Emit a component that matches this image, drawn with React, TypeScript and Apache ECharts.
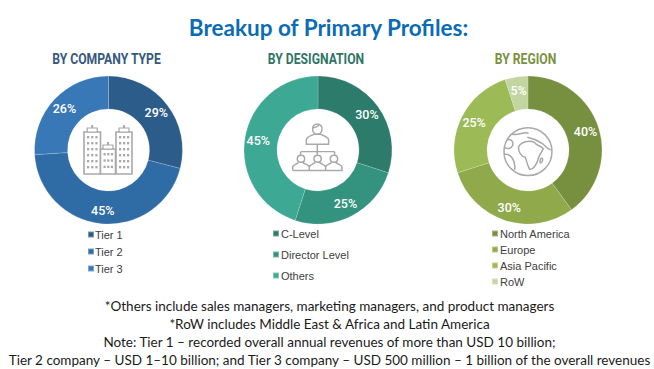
import React, { useEffect, useRef } from "react";
import * as echarts from "echarts";

const mainTitle = "Breakup of Primary Profiles:";
const panelTitles = ["BY COMPANY TYPE", "BY DESIGNATION", "BY REGION"];
const companyNames = ["Tier 1", "Tier 2", "Tier 3"];
const companyValues = [29, 45, 26];
const designationNames = ["C-Level", "Director Level", "Others"];
const designationValues = [30, 25, 45];
const regionNames = ["North America", "Europe", "Asia Pacific", "RoW"];
const regionValues = [40, 30, 25, 5];
const notes = [
  "*Others include sales managers, marketing managers, and product managers",
  "*RoW includes Middle East & Africa and Latin America",
  "Note: Tier 1 – recorded overall annual revenues of more than USD 10 billion;",
  "Tier 2 company – USD 1–10 billion; and Tier 3 company – USD 500 million – 1 billion of the overall revenues",
];

const companyColors = ["#2b5c8a", "#2f6ba5", "#3878b7"];
const designationColors = ["#2c7b6b", "#33937f", "#3da893"];
const regionColors = ["#76903f", "#8fa94b", "#9cba56", "#c3d5a0"];
const iconGrey = "#a9a9a9";

const personPath =
  "M104 60C100 36 136 36 132 60C130 76 106 76 104 60ZM104 54C114 52 120 50 124 44" +
  "M85 103L85 90C85 80 98 78 108 73L128 73C138 78 152 80 152 90L152 103ZM118 103L118 125M68 125L170 125" +
  "M68 125L68 135M118 125L118 135M170 125L170 135" +
  "M58 147C58 132 80 132 80 147C80 160 58 160 58 147ZM108 147C108 132 130 132 130 147C130 160 108 160 108 147Z" +
  "M157 147C157 132 179 132 179 147C179 160 157 160 157 147Z" +
  "M44 182L44 172C44 164 56 163 61 158M75 158C80 163 94 164 94 172L94 182M94 172C94 164 106 163 111 158" +
  "M125 158C130 163 143 164 143 172L143 182M143 172C143 164 155 163 160 158M174 158C179 163 192 164 192 172L192 182L44 182";
const globePath =
  "M120 53C80 53 48 85 48 125C48 165 80 197 120 197C160 197 192 165 192 125C192 85 160 53 120 53Z" +
  "M92 110C100 95 125 90 140 98C146 108 160 108 166 116C160 130 150 140 150 150C145 165 135 180 125 178" +
  "C118 165 115 150 112 142C100 140 90 125 92 110Z" +
  "M72 72C90 80 108 62 122 70M118 82C138 86 150 92 162 100C172 106 176 116 188 120" +
  "M55 92C64 84 78 92 74 106C68 118 60 118 50 112M50 132C68 132 84 150 80 180" +
  "M158 146C164 142 166 148 162 156C158 162 154 158 158 146Z";

echarts.graphic.registerShape("personIcon", echarts.graphic.extendPath(personPath, {}));
echarts.graphic.registerShape("globeIcon", echarts.graphic.extendPath(globePath, {}));

function tower(x: number, y: number, w: number, h: number, cols: number, rows: number) {
  const out: any[] = [
    { type: "rect", shape: { x, y, width: w, height: h }, style: { fill: "#fff", stroke: iconGrey, lineWidth: 1.6 } },
    { type: "rect", shape: { x: x + w / 2 - 5, y: y - 4, width: 10, height: 4 }, style: { fill: "#fff", stroke: iconGrey, lineWidth: 1.2 } },
    { type: "rect", shape: { x: x + w / 2 - 1, y: y - 7, width: 2, height: 3 }, style: { fill: iconGrey } },
  ];
  const gx = (w - 4) / cols;
  const gy = (h - 6) / rows;
  for (let c = 0; c < cols; c++) {
    for (let r = 0; r < rows; r++) {
      out.push({
        type: "rect",
        shape: { x: x + 3 + c * gx, y: y + 4 + r * gy, width: 2.2, height: 2.4 },
        style: { fill: iconGrey },
      });
    }
  }
  return out;
}

function pie(names: string[], values: number[], colors: string[], cx: number) {
  return {
    type: "pie",
    center: [cx, 150],
    radius: [41, 74],
    startAngle: 90,
    clockwise: true,
    silent: true,
    avoidLabelOverlap: false,
    itemStyle: { borderColor: "rgba(255,255,255,0.35)", borderWidth: 0.5 },
    label: {
      show: true,
      position: "inside",
      formatter: "{c}%",
      color: "#fff",
      fontFamily: "Roboto",
      fontSize: 12.5,
      fontWeight: 500,
    },
    labelLine: { show: false },
    data: names.map((name, i) => ({ name, value: values[i], itemStyle: { color: colors[i] } })),
  };
}

function legend(names: string[], left: number, top: number, gap: number, shift: number) {
  return {
    data: names,
    left,
    top,
    orient: "vertical",
    icon: "rect",
    itemWidth: 6,
    itemHeight: 6,
    itemGap: gap,
    padding: 0,
    selectedMode: false,
    textStyle: { color: "#404040", fontFamily: "Liberation Sans", fontSize: 11, lineHeight: 11, padding: [0, 0, 0, shift] },
  };
}

export default function App() {
  const ref = useRef<HTMLDivElement>(null);
  useEffect(() => {
    document.body.style.margin = "0";
    const chart = echarts.init(ref.current!, undefined, { renderer: "svg" });
    const subtitle = (text: string, x: number, fill: string) => ({
      type: "text",
      x,
      y: 59,
      scaleX: 0.87,
      style: {
        text,
        fill,
        fontFamily: "Roboto",
        fontSize: 14,
        fontWeight: "bold",
        textAlign: "center",
        textVerticalAlign: "middle",
      },
    });
    chart.setOption({
      animation: false,
      backgroundColor: "#ffffff",
      legend: [
        legend(companyNames, 87, 229, 6, -4),
        legend(designationNames, 272, 228, 10, -3),
        legend(regionNames, 491, 228, 5, -3),
      ],
      series: [
        pie(companyNames, companyValues, companyColors, 108.5),
        pie(designationNames, designationValues, designationColors, 318),
        pie(regionNames, regionValues, regionColors, 528),
      ],
      graphic: [
        { type: "text", x: 328.5, y: 27, style: { text: mainTitle, fill: "#0b6cb5", fontFamily: "Lato", fontSize: 22.5, fontWeight: "bold", textAlign: "center", textVerticalAlign: "middle" } },
        subtitle(panelTitles[0], 106.5, "#34597f"),
        subtitle(panelTitles[1], 316, "#2f7565"),
        subtitle(panelTitles[2], 525.5, "#7a9140"),
        ...notes.map((text, i) => ({
          type: "text",
          x: 329.5,
          y: 306 + i * 18,
          style: { text, fill: "#1a1a1a", fontFamily: "Lato", fontSize: 13.5, textAlign: "center", textVerticalAlign: "middle" },
        })),
        {
          type: "group",
          children: [...tower(84, 132, 16.5, 42, 3, 6), ...tower(100.5, 149, 15, 25, 3, 3), ...tower(116, 132, 16, 42, 3, 6)],
        },
        { type: "personIcon", x: 278, y: 110, scaleX: 1 / 3, scaleY: 1 / 3, style: { fill: "none", stroke: iconGrey, lineWidth: 4.5 } },
        { type: "globeIcon", x: 488, y: 110, scaleX: 1 / 3, scaleY: 1 / 3, style: { fill: "none", stroke: iconGrey, lineWidth: 4.5 } },
      ],
    });
    return () => chart.dispose();
  }, []);
  return <div ref={ref} style={{ width: 654, height: 369 }} />;
}
